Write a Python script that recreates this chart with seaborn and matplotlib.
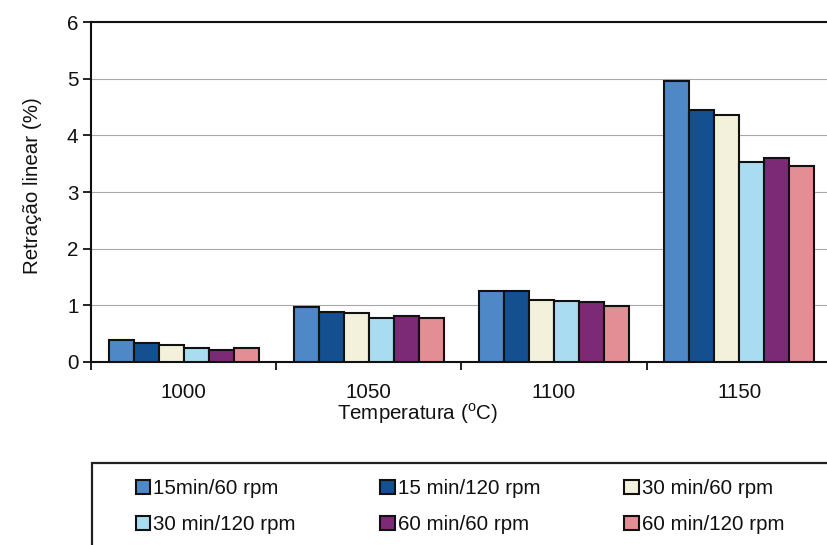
import matplotlib
matplotlib.use("Agg")
import matplotlib.pyplot as plt
from matplotlib.patches import Rectangle
import seaborn as sns
import pandas as pd

# Sintering temperatures (°C)
temperatures = ["1000", "1050", "1100", "1150"]

# Milling conditions (time / speed)
conditions = ["15min/60 rpm", "15 min/120 rpm", "30 min/60 rpm",
              "30 min/120 rpm", "60 min/60 rpm", "60 min/120 rpm"]

# Linear shrinkage (%) per condition, one value per temperature
s15_60 = [0.39, 0.97, 1.26, 4.96]
s15_120 = [0.33, 0.89, 1.25, 4.44]
s30_60 = [0.30, 0.86, 1.10, 4.36]
s30_120 = [0.25, 0.78, 1.07, 3.53]
s60_60 = [0.22, 0.81, 1.05, 3.60]
s60_120 = [0.24, 0.78, 0.98, 3.46]

colors = ["#4F88C6", "#14508F", "#F3F1DB", "#A9DCF0", "#7D2A76", "#E38E95"]

series = [s15_60, s15_120, s30_60, s30_120, s60_60, s60_120]
df = pd.DataFrame({
    "temp": [t for _ in conditions for t in temperatures],
    "cond": [c for c in conditions for _ in temperatures],
    "val": [v for s in series for v in s],
})

sns.set_theme(style="white")
plt.rcParams["font.family"] = ["Liberation Sans", "DejaVu Sans"]
plt.rcParams["mathtext.fontset"] = "custom"
plt.rcParams["mathtext.rm"] = "Liberation Sans"

FS = 14.8

fig = plt.figure(figsize=(8.27, 5.45), dpi=100)
ax = fig.add_axes([0.110, 0.3358, 0.896, 0.6238])

sns.barplot(data=df, x="temp", y="val", hue="cond", order=temperatures,
            hue_order=conditions, palette=colors, width=0.81, gap=0,
            edgecolor="#111111", linewidth=1.5, saturation=1, ax=ax,
            legend=True, zorder=3)

ax.set_ylim(0, 6)
ax.set_xlim(-0.5, 3.5)
ax.set_yticks(range(0, 7))
ax.yaxis.grid(True, color="#a8a8a8", linewidth=0.8, zorder=0)
ax.set_axisbelow(True)

# category boundaries as major ticks, labels on minor ticks
ax.set_xticks([-0.5, 0.5, 1.5, 2.5, 3.5])
ax.set_xticklabels([])
ax.set_xticks([0, 1, 2, 3], minor=True)
ax.set_xticklabels(temperatures, minor=True)
ax.tick_params(axis="x", which="major", length=6, width=1.3, color="#111111",
               direction="out", bottom=True)
ax.tick_params(axis="x", which="minor", length=0, pad=15, labelsize=FS,
               labelcolor="#111111")
ax.tick_params(axis="y", length=6, width=1.3, color="#111111", direction="out",
               left=True, labelsize=FS, labelcolor="#111111", pad=3)

for side in ["left", "bottom", "top"]:
    ax.spines[side].set_visible(True)
    ax.spines[side].set_color("#111111")
    ax.spines[side].set_linewidth(1.5)
ax.spines["right"].set_visible(False)

ax.set_ylabel("Retração linear (%)", fontsize=FS, color="#111111")
ax.yaxis.set_label_coords(-0.066, 0.518)
ax.set_xlabel(r"Temperatura ($^{\rm o}$C)", fontsize=FS, color="#111111")
ax.xaxis.set_label_coords(0.44, -0.117)

handles, labels = ax.get_legend_handles_labels()
ax.get_legend().remove()
order = [0, 3, 1, 4, 2, 5]
leg = fig.legend([handles[i] for i in order], [labels[i] for i in order],
                 ncol=3, loc="upper left", bbox_to_anchor=(0.142, 0.155),
                 frameon=False, fontsize=FS, handlelength=0.7,
                 handleheight=0.7, handletextpad=0.15, columnspacing=4.1,
                 labelspacing=0.85, labelcolor="#111111")

# legend frame running off the figure edges
fig.add_artist(Rectangle((0.111, -0.1), 1.0, 0.2505, transform=fig.transFigure,
                         fill=False, edgecolor="#222222", linewidth=1.6))

fig.savefig("out.png", dpi=100)
